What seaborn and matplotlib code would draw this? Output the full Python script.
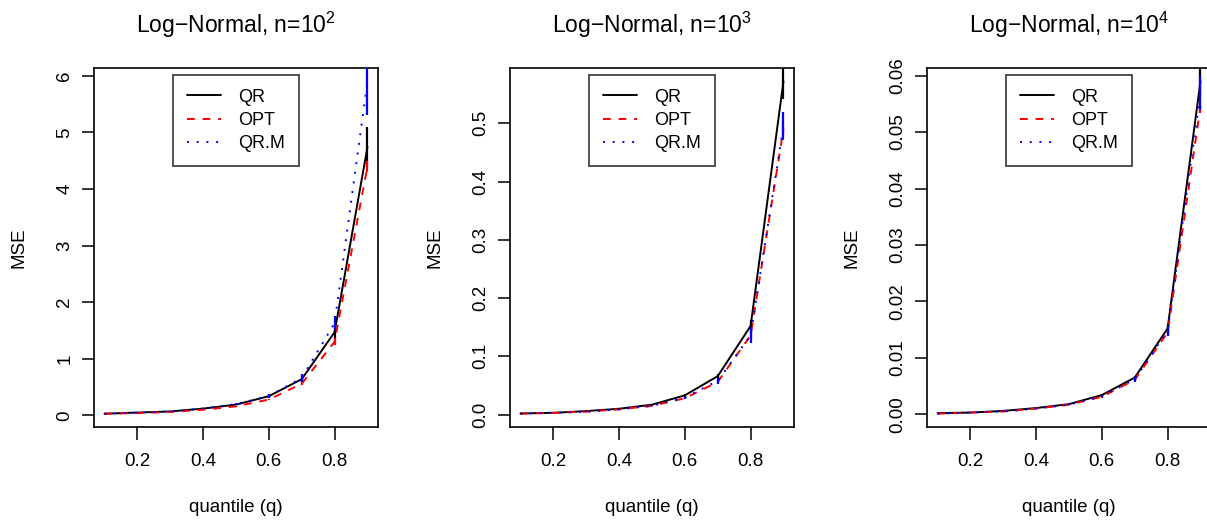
import numpy as np
import pandas as pd
import matplotlib
matplotlib.use('Agg')
import matplotlib.pyplot as plt
import seaborn as sns

# quantile grid and methods
q = [0.1, 0.2, 0.3, 0.4, 0.5, 0.6, 0.7, 0.8, 0.9]
methods = ['QR', 'OPT', 'QR.M']
exponents = [2, 3, 4]

# MSE means and half-widths of the error bars, n = 10^2
qr_n2 = [0.03, 0.05, 0.07, 0.12, 0.19, 0.34, 0.64, 1.47, 4.74]
opt_n2 = [0.03, 0.04, 0.06, 0.10, 0.16, 0.28, 0.56, 1.30, 4.40]
qrm_n2 = [0.03, 0.05, 0.07, 0.12, 0.20, 0.34, 0.66, 1.63, 5.90]
qr_n2_err = [0.003, 0.004, 0.006, 0.01, 0.015, 0.03, 0.06, 0.12, 0.36]
opt_n2_err = [0.002, 0.003, 0.005, 0.008, 0.01, 0.015, 0.03, 0.06, 0.10]
qrm_n2_err = [0.003, 0.004, 0.006, 0.01, 0.02, 0.04, 0.07, 0.13, 0.60]

# n = 10^3
qr_n3 = [0.002, 0.003, 0.006, 0.010, 0.017, 0.033, 0.066, 0.152, 0.572]
opt_n3 = [0.0015, 0.003, 0.005, 0.009, 0.015, 0.028, 0.056, 0.136, 0.490]
qrm_n3 = [0.0015, 0.003, 0.005, 0.009, 0.015, 0.029, 0.058, 0.136, 0.495]
qr_n3_err = [0.0002, 0.0003, 0.0005, 0.0008, 0.001, 0.002, 0.004, 0.010, 0.030]
opt_n3_err = [0.0001, 0.0002, 0.0004, 0.0006, 0.001, 0.002, 0.003, 0.006, 0.012]
qrm_n3_err = [0.0002, 0.0003, 0.0005, 0.0008, 0.001, 0.002, 0.005, 0.014, 0.024]

# n = 10^4
qr_n4 = [0.0002, 0.0003, 0.0006, 0.0011, 0.0018, 0.0034, 0.0065, 0.0152, 0.0590]
opt_n4 = [0.0001, 0.0003, 0.0005, 0.0010, 0.0017, 0.0031, 0.0061, 0.0145, 0.0545]
qrm_n4 = [0.0001, 0.0003, 0.0005, 0.0010, 0.0017, 0.0032, 0.0062, 0.0148, 0.0570]
qr_n4_err = [0.00001, 0.00002, 0.00004, 0.00006, 0.0001, 0.0002, 0.0003, 0.0008, 0.0030]
opt_n4_err = [0.00001, 0.00002, 0.00003, 0.00005, 0.0001, 0.0002, 0.0003, 0.0005, 0.0012]
qrm_n4_err = [0.00001, 0.00002, 0.00004, 0.00006, 0.0001, 0.0002, 0.0004, 0.0009, 0.0030]

yticks_n2 = [0, 1, 2, 3, 4, 5, 6]
yticks_n3 = [0.0, 0.1, 0.2, 0.3, 0.4, 0.5]
yticks_n4 = [0.00, 0.01, 0.02, 0.03, 0.04, 0.05, 0.06]
ytick_fmt = ['{:.0f}', '{:.1f}', '{:.2f}']
xticks = [0.2, 0.4, 0.6, 0.8]

panels = [
    ([qr_n2, opt_n2, qrm_n2], [qr_n2_err, opt_n2_err, qrm_n2_err], yticks_n2),
    ([qr_n3, opt_n3, qrm_n3], [qr_n3_err, opt_n3_err, qrm_n3_err], yticks_n3),
    ([qr_n4, opt_n4, qrm_n4], [qr_n4_err, opt_n4_err, qrm_n4_err], yticks_n4),
]

colors = {'QR': 'black', 'OPT': 'red', 'QR.M': 'blue'}
dashes = {'QR': '', 'OPT': (4, 4), 'QR.M': (1, 4)}

sns.set_style('white')
plt.rcParams['font.family'] = ['Liberation Sans', 'DejaVu Sans']
plt.rcParams['mathtext.fontset'] = 'custom'
plt.rcParams['mathtext.rm'] = 'Liberation Sans'
plt.rcParams['mathtext.it'] = 'Liberation Sans:italic'
plt.rcParams['text.color'] = 'black'
plt.rcParams['axes.labelcolor'] = 'black'
plt.rcParams['axes.titlecolor'] = 'black'

W, H = 1207, 531
fig = plt.figure(figsize=(W / 100, H / 100), dpi=100)

lefts = [94, 510, 927]
for i, (means, errs, yticks) in enumerate(panels):
    ax = fig.add_axes([lefts[i] / W, (H - 427) / H, 284 / W, 359 / H])

    df = pd.DataFrame({
        'q': q * 3,
        'mse': np.concatenate(means),
        'method': np.repeat(methods, len(q)),
    })
    sns.lineplot(data=df, x='q', y='mse', hue='method', style='method',
                 palette=colors, dashes=dashes, linewidth=1.4,
                 legend=False, ax=ax, zorder=2)
    for m, mean, err in zip(methods, means, errs):
        mean = np.array(mean)
        err = np.array(err)
        ax.vlines(q, mean - err, mean + err, color=colors[m], linewidth=1.6, zorder=3)

    # R-style axis ranges (4% padding)
    allm = np.concatenate(means)
    lo, hi = allm.min(), allm.max()
    pad = 0.04 * (hi - lo)
    ax.set_ylim(lo - pad, hi + pad)
    ax.set_xlim(0.1 - 0.032, 0.9 + 0.032)

    ax.set_xticks(xticks)
    ax.set_xticklabels(['{:.1f}'.format(t) for t in xticks])
    ax.set_yticks(yticks)
    ax.set_yticklabels([ytick_fmt[i].format(t) for t in yticks], rotation=90, va='center')
    ax.tick_params(axis='both', direction='out', length=9, width=1.1, labelsize=13.5,
                   color='black', labelcolor='black', left=True, bottom=True)
    ax.tick_params(axis='x', pad=10)
    ax.tick_params(axis='y', pad=6)

    for s in ax.spines.values():
        s.set_visible(True)
        s.set_color('black')
        s.set_linewidth(1.2)

    ax.set_xlabel('quantile (q)', fontsize=13.5)
    ax.set_ylabel('MSE', fontsize=13.5)
    ax.xaxis.set_label_coords(0.5, -80 / 359, transform=ax.transAxes)
    ax.yaxis.set_label_coords(-75 / 284, 0.5, transform=ax.transAxes)
    ax.xaxis.label.set_va('center')
    ax.yaxis.label.set_va('center')
    ax.set_title('Log\u2212Normal, n=10$^{%d}$' % exponents[i], fontsize=16.5, pad=25)

    leg = ax.legend(ax.lines[:3], methods, loc='upper center',
                    bbox_to_anchor=(0.5, 1 - 7 / 359), borderaxespad=0,
                    fontsize=13, frameon=True, fancybox=False,
                    handlelength=1.9, handletextpad=0.95, labelspacing=0.35,
                    borderpad=0.75)
    leg.get_frame().set_edgecolor('black')
    leg.get_frame().set_linewidth(1.2)
    for t in leg.get_texts():
        t.set_color('black')

fig.savefig('out.png', dpi=100)
